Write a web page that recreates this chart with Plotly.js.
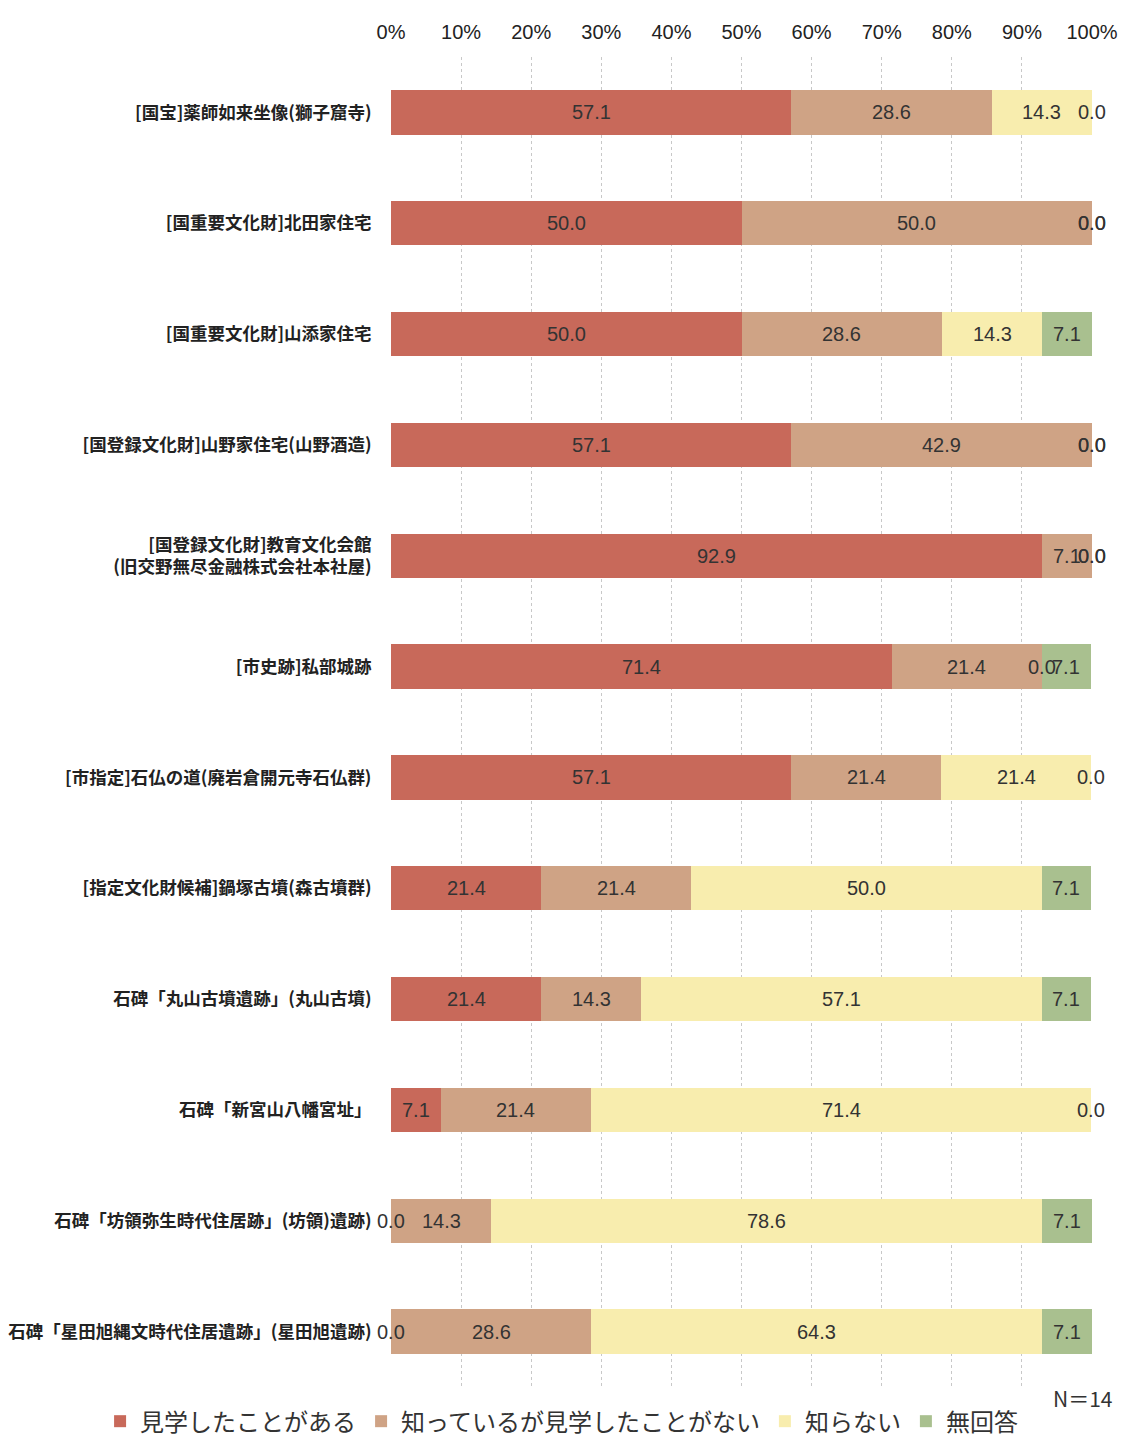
<!DOCTYPE html>
<html>
<head>
<meta charset="utf-8">
<script src="https://cdn.plot.ly/plotly-3.0.1.min.js"></script>
<style>html,body{margin:0;padding:0;background:#fff;}#chart{width:1131px;height:1450px;}</style>
</head>
<body>
<div id="chart"></div>
<script>
const categories = [
  "[国宝]薬師如来坐像(獅子窟寺)",
  "[国重要文化財]北田家住宅",
  "[国重要文化財]山添家住宅",
  "[国登録文化財]山野家住宅(山野酒造)",
  "[国登録文化財]教育文化会館<br>(旧交野無尽金融株式会社本社屋)",
  "[市史跡]私部城跡",
  "[市指定]石仏の道(廃岩倉開元寺石仏群)",
  "[指定文化財候補]鍋塚古墳(森古墳群)",
  "石碑「丸山古墳遺跡」(丸山古墳)",
  "石碑「新宮山八幡宮址」",
  "石碑「坊領弥生時代住居跡」(坊領)遺跡)",
  "石碑「星田旭縄文時代住居遺跡」(星田旭遺跡)"
];
const seriesNames = ["見学したことがある", "知っているが見学したことがない", "知らない", "無回答"];
const visited    = [57.1, 50.0, 50.0, 57.1, 92.9, 71.4, 57.1, 21.4, 21.4,  7.1,  0.0,  0.0];
const knownOnly  = [28.6, 50.0, 28.6, 42.9,  7.1, 21.4, 21.4, 21.4, 14.3, 21.4, 14.3, 28.6];
const unknown    = [14.3,  0.0, 14.3,  0.0,  0.0,  0.0, 21.4, 50.0, 57.1, 71.4, 78.6, 64.3];
const noAnswer   = [ 0.0,  0.0,  7.1,  0.0,  0.0,  7.1,  0.0,  7.1,  7.1,  0.0,  7.1,  7.1];
const colors = ["#c8695a", "#cfa385", "#f8edae", "#a9c08f"];
const tickVals = [0, 10, 20, 30, 40, 50, 60, 70, 80, 90, 100];
const tickText = tickVals.map(v => v + "%");
const nLabel = "N＝14";

const series = [visited, knownOnly, unknown, noAnswer];
const traces = series.map((vals, i) => ({
  type: "bar",
  orientation: "h",
  name: seriesNames[i],
  y: categories,
  x: vals,
  marker: {color: colors[i], line: {width: 0}},
  hoverinfo: "x+name"
}));

const labelFont = {family: "Liberation Sans Narrow, Arial Narrow, sans-serif", size: 20, color: "#333"};
const annotations = [];
categories.forEach((cat, r) => {
  let cum = 0;
  series.forEach((vals, i) => {
    const v = vals[r];
    annotations.push({
      x: cum + v / 2, y: r, xref: "x", yref: "y",
      text: v.toFixed(1), showarrow: false, font: labelFont,
      xanchor: "center", yanchor: "middle"
    });
    cum += v;
  });
});
annotations.push({
  x: 0.987, y: -0.008, xref: "paper", yref: "paper", text: nLabel, showarrow: false,
  xanchor: "center", yanchor: "middle",
  font: {family: "Noto Sans CJK JP, sans-serif", size: 21, color: "#333"}
});

const layout = {
  width: 1131, height: 1450,
  margin: {l: 391, r: 39, t: 57, b: 63, autoexpand: false},
  paper_bgcolor: "#ffffff",
  plot_bgcolor: "#ffffff",
  barmode: "stack",
  bargap: 0.6,
  font: {family: "Noto Sans CJK JP, sans-serif", color: "#222"},
  xaxis: {
    side: "top", range: [0, 100], tickvals: tickVals, ticktext: tickText,
    showgrid: true, gridcolor: "#c8c8c8", griddash: "dot", gridwidth: 1,
    zeroline: false, showline: false,
    ticks: "outside", ticklen: 9, tickcolor: "rgba(0,0,0,0)",
    tickfont: {family: "Liberation Sans Narrow, Arial Narrow, sans-serif", size: 20, color: "#222"}
  },
  yaxis: {
    type: "category", autorange: "reversed", showgrid: false, zeroline: false, showline: false,
    ticks: "outside", ticklen: 15, tickcolor: "rgba(0,0,0,0)",
    tickfont: {family: "Noto Sans CJK JP, sans-serif", size: 17.5, weight: "bold", color: "#222"}
  },
  showlegend: true,
  legend: {
    orientation: "h", x: -0.415, xanchor: "left",
    y: -0.026, yanchor: "middle", traceorder: "normal",
    itemwidth: 30,
    font: {family: "Noto Sans CJK JP, sans-serif", size: 24, color: "#333"},
    bgcolor: "rgba(0,0,0,0)"
  },
  annotations: annotations
};

Plotly.newPlot("chart", traces, layout, {displayModeBar: false, staticPlot: true});
</script>
</body>
</html>
